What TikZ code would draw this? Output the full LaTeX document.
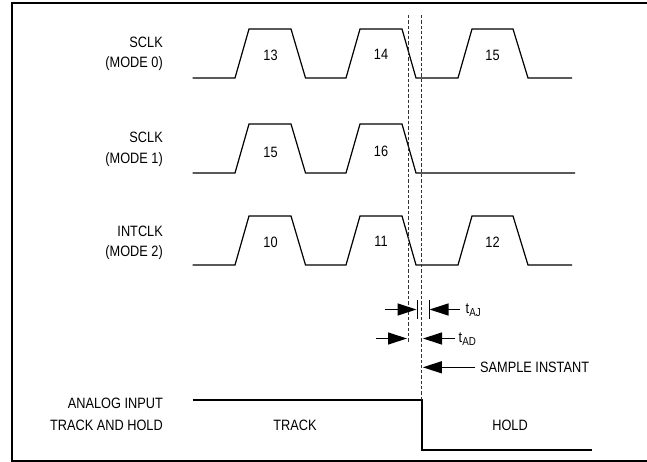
\documentclass[tikz,border=0pt]{standalone}
\usepackage{fontspec}
\setmainfont{Liberation Sans}[FakeStretch=0.85]
\usetikzlibrary{arrows.meta}
\newcommand{\tsub}[1]{t{\fontsize{11.5}{12}\selectfont\raisebox{-3.5pt}{#1}}}
\begin{document}
\begin{tikzpicture}[x=1pt,y=-1pt,
  wave/.style={line width=1.2pt, line join=miter},
  lbl/.style={font=\fontsize{15}{17}\selectfont, inner sep=0pt},
  guide/.style={line width=0.9pt, dash pattern=on 3.3pt off 2pt, black!80},
  tarrow/.style={line width=1.2pt, -{Triangle[length=19pt,width=12pt]}},
  bar/.style={line width=1pt},
]
\useasboundingbox (0,0) rectangle (647,462);
% frame
\draw[line width=2pt] (648,3) -- (12,3) -- (12,461) -- (648,461);

% waveforms
\draw[wave] (192.7,78) -- (235,78) -- (249,29) -- (291,29) -- (305.5,78) -- (346,78) -- (360,29) -- (402,29) -- (416,78) -- (458,78) -- (472,29) -- (513,29) -- (528,78) -- (572,78);
\draw[wave] (192.7,173) -- (235,173) -- (249,124) -- (291,124) -- (305.5,173) -- (346,173) -- (360,124) -- (402,124) -- (416,173) -- (575,173);
\draw[wave] (192.7,265) -- (235,265) -- (249,216) -- (291,216) -- (305.5,265) -- (346,265) -- (360,216) -- (402,216) -- (416,265) -- (458,265) -- (472,216) -- (513,216) -- (528,265) -- (572,265);
\draw[wave] (192.7,400) -- (422,400) -- (422,450) -- (591.7,450);

% pulse numbers
\node[lbl] (n13) at (270.5,55) {13};
\node[lbl] (n14) at (381,54.5) {14};
\node[lbl] (n15a) at (492.5,55) {15};
\node[lbl] (n15b) at (270.5,152.5) {15};
\node[lbl] (n16) at (381,151.5) {16};
\node[lbl] (n10) at (270.5,242) {10};
\node[lbl] (n11) at (381,241) {11};
\node[lbl] (n12) at (492.5,242) {12};

% left labels
\node[lbl, anchor=east] (l1a) at (163,42.5) {SCLK};
\node[lbl, anchor=east] (l1b) at (163,63.5) {(MODE 0)};
\node[lbl, anchor=east] (l2a) at (163,137.5) {SCLK};
\node[lbl, anchor=east] (l2b) at (163,159.5) {(MODE 1)};
\node[lbl, anchor=east] (l3a) at (163,231) {INTCLK};
\node[lbl, anchor=east] (l3b) at (163,252.5) {(MODE 2)};
\node[lbl, anchor=east] (l4a) at (163,403) {ANALOG INPUT};
\node[lbl, anchor=east] (l4b) at (163,425) {TRACK AND HOLD};
\node[lbl] (track) at (295,425.5) {TRACK};
\node[lbl] (hold) at (510,425.5) {HOLD};

% guide lines
\coordinate (d1t) at (408.3,15);
\coordinate (d1b) at (408.3,343);
\coordinate (d2t) at (421.8,15);
\coordinate (d2b) at (421.8,400);
\draw[guide] (d1t) -- (d1b);
\draw[guide] (d2t) -- (d2b);

% tAJ
\coordinate (b1t) at (417,300);
\coordinate (b1b) at (417,319);
\coordinate (b2t) at (429,300);
\coordinate (b2b) at (429,319);
\draw[bar] (b1t) -- (b1b);
\draw[bar] (b2t) -- (b2b);
\coordinate (aj1s) at (385,309.5);
\coordinate (aj1e) at (416.5,309.5);
\coordinate (aj2s) at (460,309.5);
\coordinate (aj2e) at (429.5,309.5);
\draw[tarrow] (aj1s) -- (aj1e);
\draw[tarrow] (aj2s) -- (aj2e);
\node[lbl, anchor=west] (taj) at (465.5,310) {\tsub{AJ}};

% tAD
\coordinate (ad1s) at (376,338.5);
\coordinate (ad1e) at (407,338.5);
\coordinate (ad2s) at (455,338.5);
\coordinate (ad2e) at (423,338.5);
\draw[tarrow] (ad1s) -- (ad1e);
\draw[tarrow] (ad2s) -- (ad2e);
\node[lbl, anchor=west] (tad) at (458.5,339) {\tsub{AD}};

% sample instant
\coordinate (sis) at (475,367.3);
\coordinate (sie) at (422.8,367.3);
\draw[tarrow] (sis) -- (sie);
\node[lbl, anchor=west] (si) at (480,367.3) {SAMPLE INSTANT};
\end{tikzpicture}
\end{document}
